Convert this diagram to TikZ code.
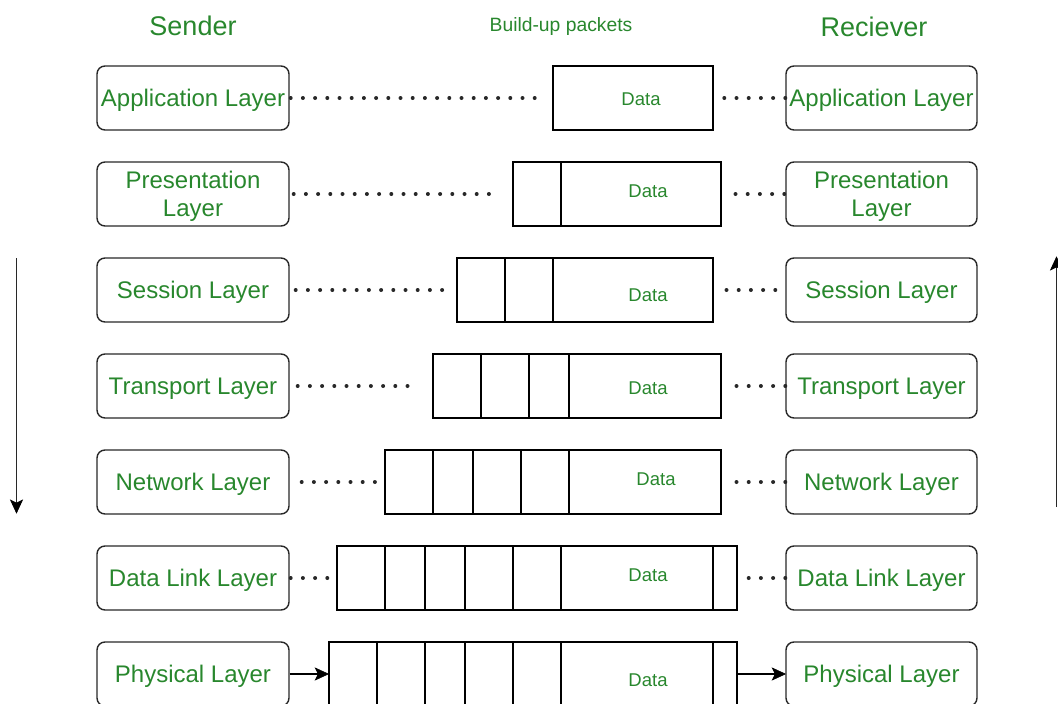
\documentclass[tikz,border=0pt]{standalone}
\usepackage{fontspec}
\setmainfont{Liberation Sans}
\definecolor{gtext}{RGB}{40,135,45}
\definecolor{edge}{RGB}{40,40,40}
\tikzset{
  layerbox/.style={draw=edge, line width=1.4pt, rounded corners=8pt, minimum width=192pt, minimum height=64pt,
    text=gtext, align=center, inner sep=0pt, text depth=0pt, font=\fontsize{24}{28.5}\selectfont},
  pkt/.style={draw=black, line width=1.4pt, minimum height=64pt, inner sep=0pt},
  datalbl/.style={text=gtext, font=\fontsize{18.5}{22}\selectfont, inner sep=0pt},
  title/.style={text=gtext, inner sep=0pt},
  dotline/.style={draw=edge, line width=4pt, line cap=round, dash pattern=on 0pt off 12.2pt},
  conn/.style={draw=black, line width=1.5pt},
  vline/.style={draw=edge, line width=1.6pt},
  headfill/.style={fill=black, draw=black, line width=0.6pt, line join=miter},
}
\begin{document}
\begin{tikzpicture}[x=1pt,y=-1pt]
\useasboundingbox (0,0) rectangle (1058,704);

% titles
\node[title, font=\fontsize{27}{30}\selectfont] (tsend) at (193,26) {Sender};
\node[title, font=\fontsize{19.3}{22}\selectfont] (tpk) at (561,27) {Build-up packets};
\node[title, font=\fontsize{27}{30}\selectfont] (trec) at (874,27) {Reciever};

% sender layer boxes
\node[layerbox] (s1) at (193,98)  {Application Layer};
\node[layerbox] (s2) at (193,194) {Presentation\\Layer};
\node[layerbox] (s3) at (193,290) {Session Layer};
\node[layerbox] (s4) at (193,386) {Transport Layer};
\node[layerbox] (s5) at (193,482) {Network Layer};
\node[layerbox] (s6) at (193,578) {Data Link Layer};
\node[layerbox] (s7) at (193,674) {Physical Layer};

% receiver layer boxes
\node[layerbox, minimum width=191pt] (r1) at (881.5,98)  {Application Layer};
\node[layerbox, minimum width=191pt] (r2) at (881.5,194) {Presentation\\Layer};
\node[layerbox, minimum width=191pt] (r3) at (881.5,290) {Session Layer};
\node[layerbox, minimum width=191pt] (r4) at (881.5,386) {Transport Layer};
\node[layerbox, minimum width=191pt] (r5) at (881.5,482) {Network Layer};
\node[layerbox, minimum width=191pt] (r6) at (881.5,578) {Data Link Layer};
\node[layerbox, minimum width=191pt] (r7) at (881.5,674) {Physical Layer};

% packets
\node[pkt, minimum width=160pt] (p1) at (633,98) {};
\node[pkt, minimum width=208pt] (p2) at (617,194) {};
\node[pkt, minimum width=256pt] (p3) at (585,290) {};
\node[pkt, minimum width=288pt] (p4) at (577,386) {};
\node[pkt, minimum width=336pt] (p5) at (553,482) {};
\node[pkt, minimum width=400pt] (p6) at (537,578) {};
\node[pkt, minimum width=408pt] (p7) at (533,674) {};

% header dividers
\foreach \r/\xs in {2/{561}, 3/{505,553}, 4/{481,529,569}, 5/{433,473,521,569},
                    6/{385,425,465,513,561,713}, 7/{377,425,465,513,561,713}} {
  \foreach \x in \xs {
    \draw[black, line width=1.4pt] (\x,{66+96*(\r-1)}) -- (\x,{130+96*(\r-1)});
  }
}

% data labels
\node[datalbl] (d1) at (641,99)  {Data};
\node[datalbl] (d2) at (648,191) {Data};
\node[datalbl] (d3) at (648,295) {Data};
\node[datalbl] (d4) at (648,388) {Data};
\node[datalbl] (d5) at (656,479) {Data};
\node[datalbl] (d6) at (648,575) {Data};
\node[datalbl] (d7) at (648,680) {Data};

% dotted connectors, sender side
\draw[dotline, shorten <=1pt, shorten >=17pt] (s1.east) -- (p1.west);
\draw[dotline, shorten <=4pt, shorten >=15pt] (s2.east) -- (p2.west);
\draw[dotline, shorten <=6pt, shorten >=14pt] (s3.east) -- (p3.west);
\draw[dotline, shorten <=8pt, shorten >=15pt] (s4.east) -- (p4.west);
\draw[dotline, shorten <=12pt, shorten >=3pt] (s5.east) -- (p5.west);
\draw[dotline, shorten <=1pt, shorten >=7pt] (s6.east) -- (p6.west);

% dotted connectors, receiver side
\draw[dotline, shorten >=7pt] (r1.west) -- (p1.east);
\draw[dotline, shorten <=1pt, shorten >=7pt] (r2.west) -- (p2.east);
\draw[dotline, shorten <=10pt, shorten >=7pt] (r3.west) -- (p3.east);
\draw[dotline, shorten >=7pt] (r4.west) -- (p4.east);
\draw[dotline, shorten >=7pt] (r5.west) -- (p5.east);
\draw[dotline, shorten >=7pt] (r6.west) -- (p6.east);

% physical layer arrows
\draw[conn, shorten >=9pt] (s7.east) -- (p7.west);
\fill[headfill] (p7.west) -- ++(-13,-6) -- ++(3,6) -- ++(-3,6) -- cycle;
\draw[conn, shorten >=9pt] (p7.east) -- (r7.west);
\fill[headfill] (r7.west) -- ++(-13,-6) -- ++(3,6) -- ++(-3,6) -- cycle;

% direction arrows
\coordinate (la1) at (16.5,258);
\coordinate (la2) at (16.5,513);
\coordinate (ra1) at (1056.5,507);
\coordinate (ra2) at (1056.5,257);
\draw[vline, shorten >=9pt] (la1) -- (la2);
\fill[headfill] (la2) -- ++(-6,-13) -- ++(6,3) -- ++(6,-3) -- cycle;
\draw[vline, shorten >=9pt] (ra1) -- (ra2);
\fill[headfill] (ra2) -- ++(-6,13) -- ++(6,-3) -- ++(6,3) -- cycle;
\end{tikzpicture}
\end{document}
